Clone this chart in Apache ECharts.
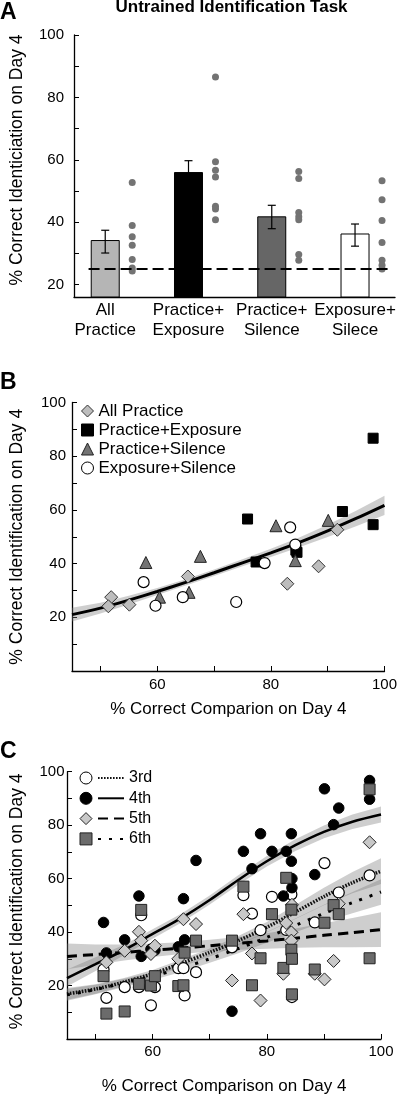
<!DOCTYPE html>
<html><head><meta charset="utf-8">
<script src="https://cdn.jsdelivr.net/npm/echarts@6/dist/echarts.min.js"></script>
<style>html,body{margin:0;padding:0;background:#fff}#c{width:400px;height:1096px}</style>
</head><body><div id="c"></div>
<script>
// ---------- Panel A data ----------
const aCategories = ['All\nPractice', 'Practice+\nExposure', 'Practice+\nSilence', 'Exposure+\nSilece'];
const aMeans = [34.1, 55.9, 41.7, 36.2];
const aErrLow = [30.1, 52.1, 37.9, 32.3];
const aErrHigh = [37.4, 59.7, 45.4, 39.4];
const aDotsAllPractice = [52.7, 38.9, 35.3, 32.6, 28.0, 25.3, 24.3];
const aDotsPracticeExposure = [86.5, 59.4, 56.6, 54.5, 45.1, 44.2, 40.8];
const aDotsPracticeSilence = [56.2, 54.0, 43.1, 41.7, 40.8, 29.6, 27.8];
const aDotsExposureSilence = [53.3, 47.2, 40.5, 33.5, 27.8, 26.2, 25.0];
const aChance = 25;
const aYTicks = [20, 30, 40, 50, 60, 70, 80, 90, 100];
const aYLabels = [20, 40, 60, 80, 100];

// ---------- Panel B data ----------
const bAllPractice = [[51.9,27.5],[51.4,24.1],[55.1,24.7],[65.4,35.2],[82.9,32.5],[88.4,39.0],[91.7,52.6]];
const bPracticeExposure = [[75.9,56.6],[77.4,40.6],[84.4,45.0],[84.6,44.2],[92.6,59.4],[98.0,86.7],[98.0,54.5]];
const bPracticeSilence = [[58.0,40.4],[60.4,27.5],[65.6,29.3],[67.6,42.7],[80.9,54.1],[84.3,41.1],[90.1,56.1]];
const bExposureSilence = [[57.6,33.1],[59.7,24.3],[64.5,27.5],[73.9,25.7],[78.9,40.2],[83.4,53.5],[84.3,47.1]];
const fitX = [45, 50, 55, 60, 65, 70, 75, 80, 85, 90, 95, 100];
const bFit = [21.0, 23.4, 26.4, 29.6, 33.0, 36.6, 40.3, 44.0, 47.9, 52.2, 56.8, 61.7];
const bFitLo = [18.4, 21.4, 24.8, 28.3, 31.8, 35.4, 39.0, 42.5, 46.1, 49.9, 53.9, 58.1];
const bFitHi = [23.6, 25.4, 28.0, 30.9, 34.2, 37.8, 41.6, 45.5, 49.7, 54.5, 59.7, 65.3];

// ---------- Panel C data ----------
const c3rd = [[51.4,26.0],[51.9,15.4],[55.1,19.4],[58.0,46.3],[57.6,19.4],[60.4,19.4],[59.7,12.6],[64.5,26.5],[65.4,26.5],[65.6,16.3],[67.6,25.0],[73.9,34.3],[75.9,53.8],[77.4,46.9],[78.9,40.7],[80.9,53.2],[83.4,40.8],[84.3,54.1],[84.4,15.7],[88.4,43.6],[90.1,65.8],[92.6,54.8],[98.0,61.2]];
const c4th = [[51.4,43.6],[51.9,32.2],[55.1,37.1],[57.6,53.5],[58.0,30.9],[59.7,33.6],[60.4,33.2],[64.5,34.5],[65.4,52.5],[65.6,37.1],[67.6,66.8],[73.9,10.4],[75.9,70.2],[77.4,63.7],[78.9,76.8],[80.9,70.2],[82.9,53.5],[83.4,70.2],[84.3,76.8],[84.3,66.5],[84.4,60.0],[84.4,56.6],[88.4,61.5],[90.1,93.6],[91.7,80.2],[92.6,86.4],[98.0,96.7],[98.0,89.7]];
const c5th = [[51.9,28.7],[55.1,33.0],[57.6,40.1],[58.0,36.8],[59.7,31.8],[60.4,34.9],[64.5,30.0],[65.4,44.8],[67.6,43.0],[73.9,21.9],[75.9,46.7],[77.4,32.0],[78.9,14.4],[82.9,24.4],[83.4,43.4],[84.3,39.9],[84.4,50.2],[84.3,36.8],[88.4,24.4],[90.1,22.3],[91.7,29.2],[92.6,50.6],[98.0,73.6]];
const c6th = [[51.4,23.5],[51.9,9.5],[55.1,10.3],[57.6,20.6],[58.0,48.3],[59.7,20.0],[60.4,23.5],[64.5,19.8],[65.4,20.1],[65.6,32.3],[67.6,36.8],[73.9,36.8],[75.9,57.0],[77.4,20.1],[78.9,30.2],[80.9,46.7],[82.9,26.6],[83.4,60.3],[84.3,48.4],[84.3,33.4],[84.4,30.0],[84.4,16.7],[88.4,26.0],[90.1,43.5],[91.7,50.1],[92.6,46.7],[98.0,93.4],[98.0,30.2]];
const c3rdFit = [16.9, 18.7, 21.3, 24.4, 28.3, 32.4, 36.8, 41.8, 47.5, 53.3, 58.5, 62.8];
const c3rdLo  = [14.7, 16.9, 19.8, 23.0, 26.9, 30.9, 35.1, 39.8, 44.9, 50.0, 54.5, 58.0];
const c3rdHi  = [19.1, 20.5, 22.8, 25.8, 29.7, 33.9, 38.5, 43.8, 50.1, 56.6, 62.5, 67.6];
const c4thFit = [22.8, 28.0, 33.3, 39.3, 45.2, 52.0, 59.5, 66.5, 72.5, 77.5, 81.3, 84.0];
const c4thLo  = [19.6, 25.4, 31.3, 37.5, 43.5, 50.3, 57.7, 64.5, 70.3, 75.1, 78.6, 81.0];
const c4thHi  = [26.0, 30.6, 35.3, 41.1, 46.9, 53.7, 61.3, 68.5, 74.7, 79.9, 84.0, 87.0];
const c5thFit = [30.9, 31.6, 32.4, 33.2, 34.0, 34.9, 35.8, 36.7, 37.7, 38.8, 39.8, 40.9];
const c5thLo  = [26.1, 27.8, 29.4, 30.7, 31.8, 32.7, 33.4, 33.8, 34.1, 34.3, 34.3, 34.4];
const c5thHi  = [35.7, 35.4, 35.4, 35.7, 36.2, 37.1, 38.2, 39.6, 41.3, 43.3, 45.3, 47.4];
const c6thFit = [16.5, 18.5, 21.0, 23.5, 26.5, 30.0, 33.8, 38.0, 42.5, 47.0, 51.0, 55.0];
const c6thLo  = [14.3, 16.7, 19.5, 22.1, 25.1, 28.5, 32.1, 36.0, 39.9, 43.8, 47.0, 50.2];
const c6thHi  = [18.7, 20.3, 22.5, 24.9, 27.9, 31.5, 35.5, 40.0, 45.1, 50.2, 55.0, 59.8];
const xTicks = [50, 60, 70, 80, 90, 100];
const xLabels = [60, 80, 100];
const yTicks = [10, 20, 30, 40, 50, 60, 70, 80, 90, 100];
const yLabels = [20, 40, 60, 80, 100];

// ---------- layout / style ----------
const FONT = 'Liberation Sans, Arial, Helvetica, sans-serif';
const aYMin = 16;
const aBarColors = ['#b5b5b5', '#000000', '#666666', '#ffffff'];
const aBarWidth = 28;
const bandColor = 'rgba(120,120,120,0.36)';

const chart = echarts.init(document.getElementById('c'));

function axisCommon(extra) {
  return Object.assign({
    type: 'value',
    axisLine: { show: true, onZero: false, lineStyle: { color: '#000', width: 1.3 } },
    splitLine: { show: false },
    nameTextStyle: { fontSize: 17, color: '#000', fontFamily: FONT }
  }, extra);
}

function band(xs, lo, hi, gi) {
  return {
    type: 'custom', xAxisIndex: gi, yAxisIndex: gi, z: 1, silent: true,
    data: xs.map((x, i) => [x, lo[i], hi[i]]),
    encode: { x: 0, y: [1, 2] },
    renderItem: function (params, api) {
      if (params.dataIndex !== 0) return;
      const pts = [];
      for (let i = 0; i < xs.length; i++) pts.push(api.coord([xs[i], hi[i]]));
      for (let i = xs.length - 1; i >= 0; i--) pts.push(api.coord([xs[i], lo[i]]));
      return { type: 'polygon', shape: { points: pts }, style: { fill: bandColor } };
    }
  };
}
function fitLine(name, xs, ys, gi, lineStyle) {
  return {
    name: name, type: 'line', xAxisIndex: gi, yAxisIndex: gi, z: 2, symbol: 'none', smooth: 0.3,
    itemStyle: { color: '#000' },
    data: xs.map((x, i) => [x, ys[i]]), lineStyle: lineStyle
  };
}
function scat(name, data, gi, symbol, size, itemStyle) {
  return { name: name, type: 'scatter', xAxisIndex: gi, yAxisIndex: gi, z: 3, symbol: symbol, symbolSize: size, data: data,
    itemStyle: Object.assign({ opacity: 1 }, itemStyle) };
}

const aDotGroups = [aDotsAllPractice, aDotsPracticeExposure, aDotsPracticeSilence, aDotsExposureSilence];
const aDots = [];
aDotGroups.forEach((g, i) => g.forEach(v => aDots.push([i + 1, v])));

const option = {
  animation: false,
  textStyle: { fontFamily: FONT, color: '#000' },
  title: [
    { text: 'A', left: 0, top: 1, padding: 0, textStyle: { fontSize: 23, fontWeight: 'bold', color: '#000', fontFamily: FONT } },
    { text: 'Untrained Identification Task', left: 115.5, top: -1, padding: 0, textStyle: { fontSize: 17, fontWeight: 'bold', color: '#000', fontFamily: FONT } },
    { text: 'B', left: 0, top: 371, padding: 0, textStyle: { fontSize: 23, fontWeight: 'bold', color: '#000', fontFamily: FONT } },
    { text: 'C', left: 0, top: 740, padding: 0, textStyle: { fontSize: 23, fontWeight: 'bold', color: '#000', fontFamily: FONT } }
  ],
  legend: [
    { data: ['All Practice', 'Practice+Exposure', 'Practice+Silence', 'Exposure+Silence'], orient: 'vertical', left: 81, top: 402.5, padding: 0,
      itemWidth: 12, itemHeight: 12, itemGap: 2, selectedMode: false, itemStyle: { borderWidth: 1, opacity: 1 },
      textStyle: { fontSize: 17, color: '#000', fontFamily: FONT } },
    { data: ['3rd', '4th', '5th', '6th'], orient: 'vertical', left: 79.5, top: 770, padding: 0,
      itemWidth: 12, itemHeight: 12, itemGap: 4.3, selectedMode: false, itemStyle: { borderWidth: 1, opacity: 1 },
      formatter: () => ' ', textStyle: { fontSize: 16, color: '#000', fontFamily: FONT } },
    { data: ['3rd fit', '4th fit', '5th fit', '6th fit'], orient: 'vertical', left: 97, top: 770, padding: 0,
      itemWidth: 26, itemHeight: 12, itemGap: 4.3, selectedMode: false, itemStyle: { opacity: 0 },
      formatter: n => n.replace(' fit', ''), textStyle: { fontSize: 16, color: '#000', fontFamily: FONT } }
  ],
  grid: [
    { left: 66, right: 5, top: 35, height: 262 },
    { left: 64, right: 14, top: 402.5, height: 268.5 },
    { left: 59.3, right: 19, top: 771.7, height: 269 }
  ],
  xAxis: [
    axisCommon({ gridIndex: 0, min: 0.625, max: 4.48, axisTick: { show: false },
      axisLabel: { customValues: [1, 2, 3, 4], formatter: v => aCategories[Math.round(v) - 1], fontSize: 17, lineHeight: 20, margin: 3, color: '#000' } }),
    axisCommon({ gridIndex: 1, min: 45, max: 100,
      axisTick: { inside: true, length: 5, customValues: xTicks, lineStyle: { color: '#000' } },
      axisLabel: { customValues: xLabels, fontSize: 15, margin: 6, color: '#000' },
      name: '% Correct Comparion on Day 4', nameLocation: 'middle', nameGap: 30 }),
    axisCommon({ gridIndex: 2, min: 45, max: 100,
      axisTick: { inside: true, length: 5, customValues: xTicks, lineStyle: { color: '#000' } },
      axisLabel: { customValues: xLabels, fontSize: 15, margin: 5, color: '#000' },
      name: '% Correct Comparison on Day 4', nameLocation: 'middle', nameGap: 39 })
  ],
  yAxis: [
    axisCommon({ gridIndex: 0, min: aYMin, max: 100,
      axisTick: { inside: true, length: 5, customValues: aYTicks, lineStyle: { color: '#000' } },
      axisLabel: { customValues: aYLabels, fontSize: 15, margin: 10, color: '#000' },
      name: '% Correct Identiciation on Day 4', nameLocation: 'middle', nameGap: 48,
      nameTextStyle: { fontSize: 17.5, color: '#000', fontFamily: FONT, padding: [0, 0, 0, 12] } }),
    axisCommon({ gridIndex: 1, min: 0, max: 100,
      axisTick: { inside: true, length: 5, customValues: yTicks, lineStyle: { color: '#000' } },
      axisLabel: { customValues: yLabels, fontSize: 15, margin: 6, color: '#000' },
      name: '% Correct Identification on Day 4', nameLocation: 'middle', nameGap: 46,
      nameTextStyle: { fontSize: 17.5, color: '#000', fontFamily: FONT } }),
    axisCommon({ gridIndex: 2, min: 0, max: 100,
      axisTick: { inside: true, length: 5, customValues: yTicks, lineStyle: { color: '#000' } },
      axisLabel: { customValues: yLabels, fontSize: 15, margin: 2.5, color: '#000' },
      name: '% Correct Identification on Day 4', nameLocation: 'middle', nameGap: 41,
      nameTextStyle: { fontSize: 17.5, color: '#000', fontFamily: FONT, padding: [0, 0, 0, 8] } })
  ],
  series: [
    // Panel A
    { type: 'custom', name: 'A bars', xAxisIndex: 0, yAxisIndex: 0, z: 2,
      data: aMeans.map((v, i) => [i + 1, v]), encode: { x: 0, y: 1 },
      renderItem: function (params, api) {
        const top = api.coord([api.value(0), api.value(1)]);
        const base = api.coord([api.value(0), aYMin]);
        return { type: 'rect', shape: { x: top[0] - aBarWidth / 2, y: top[1], width: aBarWidth, height: base[1] - top[1] },
          style: { fill: aBarColors[params.dataIndex], stroke: '#000', lineWidth: 1 } };
      } },
    { type: 'custom', name: 'A err', xAxisIndex: 0, yAxisIndex: 0, z: 3,
      data: aMeans.map((v, i) => [i + 1, aErrLow[i], aErrHigh[i]]), encode: { x: 0, y: [1, 2] },
      renderItem: function (params, api) {
        const lo = api.coord([api.value(0), api.value(1)]);
        const hi = api.coord([api.value(0), api.value(2)]);
        const cap = 4, st = { stroke: '#000', lineWidth: 1.2 };
        return { type: 'group', children: [
          { type: 'line', shape: { x1: lo[0], y1: lo[1], x2: hi[0], y2: hi[1] }, style: st },
          { type: 'line', shape: { x1: hi[0] - cap, y1: hi[1], x2: hi[0] + cap, y2: hi[1] }, style: st },
          { type: 'line', shape: { x1: lo[0] - cap, y1: lo[1], x2: lo[0] + cap, y2: lo[1] }, style: st }
        ] };
      } },
    { type: 'scatter', name: 'A dots', xAxisIndex: 0, yAxisIndex: 0, z: 3, symbol: 'circle', symbolSize: 7,
      symbolOffset: [27, 0], data: aDots, itemStyle: { color: '#737373', opacity: 1 } },
    { type: 'line', name: 'A chance', xAxisIndex: 0, yAxisIndex: 0, z: 5, symbol: 'none',
      data: [[0.8, aChance], [4.42, aChance]], lineStyle: { color: '#000', width: 2, type: [11, 5] } },

    // Panel B
    band(fitX, bFitLo, bFitHi, 1),
    fitLine('B fit', fitX, bFit, 1, { color: '#000', width: 3 }),
    scat('All Practice', bAllPractice, 1, 'diamond', 13, { color: '#bdbdbd', borderColor: '#333', borderWidth: 1 }),
    scat('Practice+Exposure', bPracticeExposure, 1, 'rect', 10, { color: '#000', borderColor: '#000', borderWidth: 1 }),
    scat('Practice+Silence', bPracticeSilence, 1, 'triangle', 12, { color: '#737373', borderColor: '#222', borderWidth: 1 }),
    scat('Exposure+Silence', bExposureSilence, 1, 'circle', 11, { color: '#fff', borderColor: '#000', borderWidth: 1.2 }),

    // Panel C
    band(fitX, c3rdLo, c3rdHi, 2),
    band(fitX, c4thLo, c4thHi, 2),
    band(fitX, c5thLo, c5thHi, 2),
    band(fitX, c6thLo, c6thHi, 2),
    fitLine('3rd fit', fitX, c3rdFit, 2, { color: '#111', width: 3.5, type: [1.6, 1.4] }),
    fitLine('4th fit', fitX, c4thFit, 2, { color: '#000', width: 2.6 }),
    fitLine('5th fit', fitX, c5thFit, 2, { color: '#000', width: 3, type: [10, 6] }),
    fitLine('6th fit', fitX, c6thFit, 2, { color: '#000', width: 3, type: [3, 8] }),
    scat('3rd', c3rd, 2, 'circle', 11, { color: '#fff', borderColor: '#000', borderWidth: 1.2 }),
    scat('4th', c4th, 2, 'circle', 10.5, { color: '#000', borderColor: '#000', borderWidth: 1 }),
    scat('5th', c5th, 2, 'diamond', 13, { color: '#c8c8c8', borderColor: '#222', borderWidth: 1 }),
    scat('6th', c6th, 2, 'rect', 11, { color: '#6b6b6b', borderColor: '#222', borderWidth: 1 })
  ]
};
chart.setOption(option);
</script>
</body></html>
